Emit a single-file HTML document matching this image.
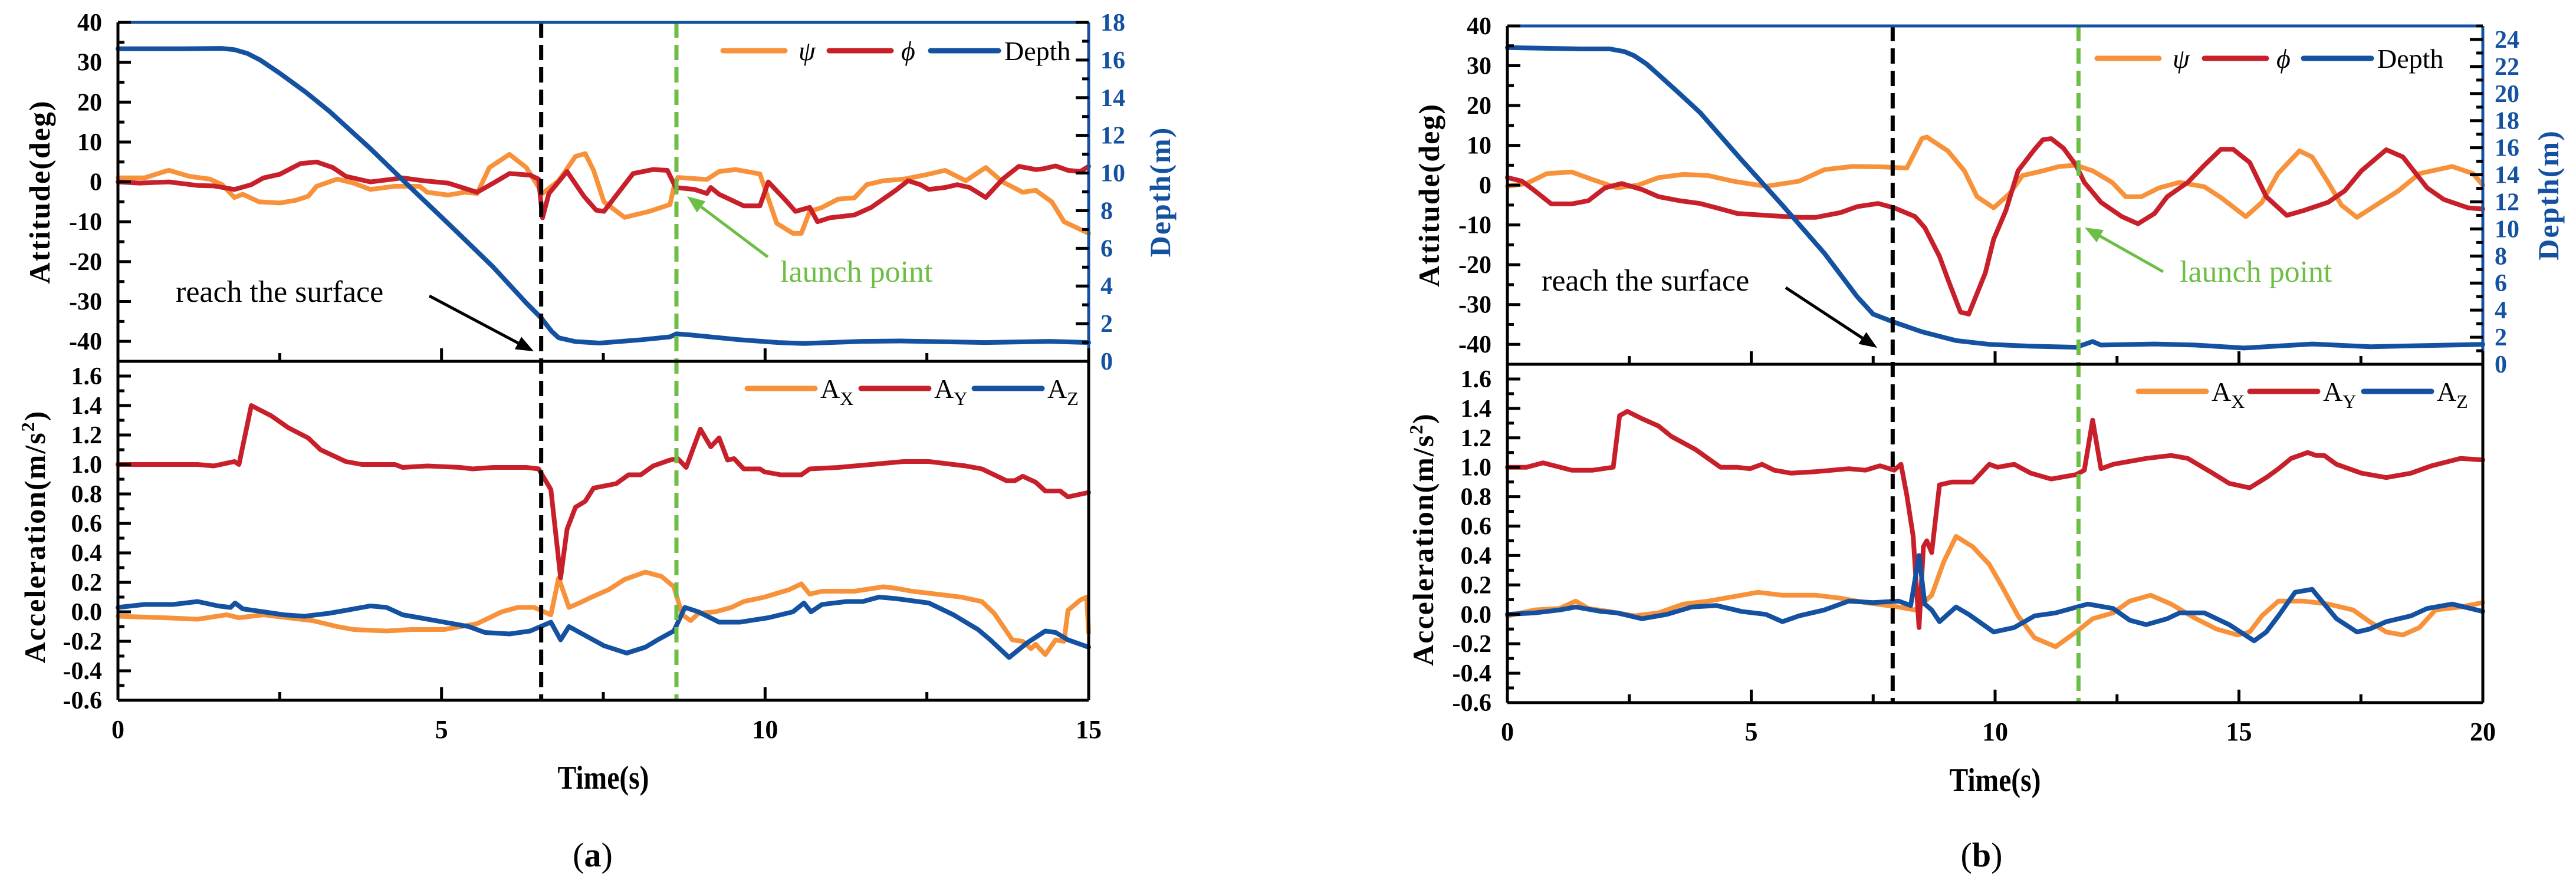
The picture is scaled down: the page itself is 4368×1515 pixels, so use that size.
<!DOCTYPE html>
<html><head><meta charset="utf-8"><style>
html,body{margin:0;padding:0;background:#fff;}
svg{display:block;}
svg text{font-family:"Liberation Serif","DejaVu Serif",serif !important;}
</style></head><body>
<svg id="fig" width="4368" height="1515" viewBox="0 0 4368 1515" xmlns="http://www.w3.org/2000/svg" font-family="Liberation Serif, serif"></svg>
<script>
// ---------- Panel (a) data ----------
const aPsiT=[0,0.41,0.72,0.79,1.10,1.42,1.61,1.80,1.93,2.18,2.50,2.75,2.94,3.07,3.39,3.64,3.90,4.28,4.66,4.78,5.10,5.36,5.55,5.74,6.05,6.31,6.56,6.81,7.07,7.22,7.35,7.51,7.83,8.21,8.53,8.59,8.65,9.10,9.29,9.54,9.92,10.18,10.43,10.56,10.69,10.88,11.13,11.38,11.57,11.83,12.14,12.46,12.78,13.10,13.41,13.67,13.98,14.18,14.43,14.62,15];
const aPsiV=[1,1,2.6,2.9,1.4,0.7,-0.7,-3.9,-3.1,-5,-5.3,-4.6,-3.6,-1.1,0.7,-0.3,-1.9,-1.1,-1.1,-2.6,-3.3,-2.6,-2.9,3.6,6.9,3.6,-2.9,0.3,6.4,7.1,2.9,-5,-8.9,-7.4,-5.7,-1.4,1.1,0.6,2.6,3.1,2,-10.4,-12.9,-12.9,-7.4,-6.4,-4.3,-4,-0.7,0.3,0.7,1.7,2.9,0.3,3.6,0,-2.6,-2.1,-5,-10,-12.9];
const aPhiT=[0,0.34,0.79,1.23,1.48,1.80,2.06,2.25,2.50,2.82,3.07,3.32,3.52,3.90,4.40,4.72,5.10,5.55,5.80,6.05,6.37,6.50,6.56,6.66,6.94,7.20,7.39,7.51,7.96,8.27,8.49,8.62,8.91,9.10,9.16,9.29,9.67,9.92,10.05,10.30,10.47,10.69,10.81,11.00,11.38,11.64,12.02,12.21,12.40,12.53,12.78,12.97,13.16,13.41,13.67,13.92,14.18,14.30,14.49,14.68,14.87,15];
const aPhiV=[0,-0.3,0,-0.9,-1,-1.9,-0.7,1,1.9,4.6,5,3.6,1.4,0,1,0.3,-0.3,-2.6,-0.3,2.1,1.7,0.7,-9,-2.9,2.6,-3.6,-7.1,-7.4,2.1,3.1,2.9,-1.4,-1.9,-2.9,-1.4,-3.1,-6,-6,0,-4.3,-7.4,-6.4,-10,-9,-8.3,-6.4,-2.1,0.3,-0.7,-1.9,-1.4,-0.7,-1.4,-3.9,0.7,3.9,3.1,3.3,4,2.9,2.6,3.9];
const aDepT=[0,1.0,1.6,1.8,2.0,2.2,2.5,2.9,3.26,3.9,4.53,5.17,5.8,6.31,6.54,6.7,6.81,7.07,7.45,8.1,8.53,8.63,8.85,9.6,10.2,10.6,11.5,12.1,13.4,14.4,15];
const aDepV=[16.6,16.6,16.62,16.55,16.35,16.0,15.3,14.3,13.3,11.3,9.2,7.1,5.0,3.1,2.3,1.6,1.25,1.05,0.97,1.15,1.3,1.46,1.4,1.15,1.0,0.95,1.06,1.08,1.0,1.06,1.0];
const aAyT=[0,0.72,1.23,1.48,1.80,1.87,2.06,2.37,2.63,2.94,3.13,3.52,3.77,4.28,4.40,4.78,5.29,5.48,5.80,6.31,6.50,6.69,6.84,6.94,7.07,7.22,7.35,7.70,7.89,8.08,8.27,8.53,8.65,8.78,9.00,9.16,9.29,9.42,9.52,9.67,9.92,9.99,10.24,10.56,10.69,11.13,11.64,12.14,12.53,13.10,13.35,13.54,13.73,13.86,13.98,14.18,14.33,14.56,14.68,15];
const aAyV=[1,1,1,0.99,1.02,1,1.4,1.33,1.25,1.18,1.1,1.02,1,1,0.98,0.99,0.98,0.97,0.98,0.98,0.97,0.83,0.23,0.56,0.71,0.75,0.84,0.87,0.93,0.93,0.99,1.03,1.04,0.98,1.24,1.12,1.18,1.03,1.04,0.97,0.97,0.95,0.93,0.93,0.97,0.98,1.0,1.02,1.02,0.99,0.97,0.93,0.89,0.89,0.92,0.88,0.82,0.82,0.78,0.81];
const aAxT=[0,0.72,1.23,1.68,1.87,2.25,2.63,3.01,3.39,3.64,4.15,4.53,5.04,5.55,5.93,6.18,6.43,6.69,6.81,6.97,7.13,7.32,7.58,7.83,8.15,8.40,8.59,8.72,8.85,8.97,9.23,9.48,9.67,9.99,10.37,10.56,10.69,10.88,11.38,11.83,12.02,12.27,12.65,13.03,13.35,13.54,13.82,13.98,14.11,14.18,14.33,14.49,14.62,14.68,14.87,14.97,15];
const aAxV=[-0.03,-0.04,-0.05,-0.02,-0.04,-0.02,-0.04,-0.06,-0.1,-0.12,-0.13,-0.12,-0.12,-0.08,0,0.03,0.03,-0.02,0.23,0.03,0.06,0.1,0.15,0.22,0.27,0.24,0.17,-0.02,-0.06,-0.01,0,0.03,0.07,0.1,0.15,0.19,0.12,0.14,0.14,0.17,0.16,0.14,0.12,0.1,0.07,-0.01,-0.19,-0.2,-0.25,-0.22,-0.29,-0.19,-0.2,0.01,0.08,0.1,-0.14];
const aAzT=[0,0.41,0.85,1.23,1.55,1.74,1.81,1.93,2.25,2.56,2.88,3.26,3.52,3.90,4.15,4.40,4.66,5.04,5.42,5.67,6.05,6.37,6.69,6.84,6.97,7.26,7.51,7.86,8.15,8.34,8.59,8.76,8.97,9.29,9.61,10.05,10.43,10.60,10.71,10.88,11.26,11.51,11.76,12.02,12.53,12.91,13.29,13.48,13.77,14.05,14.33,14.49,14.68,15];
const aAzV=[0.03,0.05,0.05,0.07,0.04,0.03,0.06,0.02,0,-0.02,-0.03,-0.01,0.01,0.04,0.03,-0.02,-0.04,-0.07,-0.1,-0.14,-0.15,-0.13,-0.07,-0.19,-0.1,-0.17,-0.23,-0.28,-0.24,-0.19,-0.13,0.03,0,-0.07,-0.07,-0.04,0,0.06,0,0.05,0.07,0.07,0.1,0.09,0.06,-0.02,-0.12,-0.19,-0.31,-0.21,-0.13,-0.14,-0.19,-0.24];

// ---------- Panel (b) data ----------
const bPsiT=[0,0.39,0.81,1.32,1.75,2.25,2.68,3.10,3.61,4.12,4.63,5.30,5.98,6.50,7.08,7.68,8.19,8.50,8.60,9.03,9.37,9.63,9.97,10.30,10.56,10.98,11.32,11.66,12.00,12.40,12.68,13.00,13.36,13.78,14.29,14.63,15.14,15.47,15.80,16.24,16.50,16.83,17.10,17.42,17.85,18.27,18.70,19.37,19.80,20];
const bPsiV=[-0.3,0.4,2.9,3.3,1.4,-0.7,0,1.9,2.7,2.4,1,-0.3,1,3.9,4.7,4.6,4.3,11.7,12.1,8.6,3.6,-2.9,-5.7,-2.1,2.4,3.6,4.7,5,3.6,0.7,-2.9,-2.9,-0.7,0.7,-0.4,-3.1,-7.9,-4.3,2.9,8.6,7.1,0.7,-5,-8.1,-4.7,-1.4,2.9,4.7,2.9,0];
const bPhiT=[0,0.30,0.56,0.90,1.32,1.66,2.00,2.34,2.76,3.10,3.53,3.95,4.29,4.71,5.30,5.98,6.32,6.83,7.17,7.60,7.93,8.36,8.56,8.86,9.03,9.29,9.46,9.80,9.97,10.22,10.47,10.81,10.98,11.15,11.40,11.66,11.83,12.17,12.60,12.93,13.27,13.53,13.95,14.29,14.63,14.88,15.22,15.56,15.98,16.32,16.83,17.17,17.51,18.02,18.36,18.86,19.20,19.70,20];
const bPhiV=[1.9,1,-1.4,-4.7,-4.7,-3.9,-0.7,0.4,-1.1,-2.9,-3.9,-4.6,-5.7,-7.1,-7.6,-8.1,-8.1,-6.9,-5.4,-4.6,-5.7,-7.9,-10.7,-17.9,-23.6,-31.9,-32.4,-22,-13.6,-6.4,3.6,9,11.4,11.7,9.3,5,0.7,-4.3,-7.9,-9.7,-7.1,-2.9,0.7,5,9,9,5.7,-2.9,-7.6,-6.4,-4.3,-1.4,3.6,8.9,7.1,-0.7,-3.6,-5.7,-6];
const bDepT=[0,1.5,2.1,2.4,2.6,2.85,3.1,3.5,3.95,4.8,5.64,6.5,7.17,7.5,7.9,8.5,9.2,9.88,10.7,11.66,12.0,12.17,13.27,14.1,15.1,16.5,17.7,20];
const bDepV=[23.4,23.3,23.3,23.1,22.8,22.2,21.4,20.1,18.6,15.1,11.75,8.2,5.0,3.7,3.15,2.4,1.75,1.47,1.34,1.26,1.68,1.42,1.5,1.42,1.2,1.5,1.3,1.47];
const bAyT=[0,0.39,0.73,1.32,1.75,2.17,2.30,2.46,2.76,3.10,3.36,3.86,4.20,4.37,4.71,4.97,5.22,5.47,5.81,6.32,7.00,7.34,7.64,7.93,8.07,8.19,8.32,8.44,8.53,8.60,8.70,8.86,9.12,9.54,9.88,10.05,10.39,10.73,11.15,11.66,11.83,12.00,12.17,12.42,13.10,13.61,13.95,14.46,14.80,15.22,15.56,15.81,16.07,16.41,16.58,16.75,17.00,17.51,18.02,18.53,18.95,19.54,20];
const bAyV=[1.0,1.0,1.03,0.98,0.98,1.0,1.35,1.38,1.33,1.28,1.21,1.12,1.04,1.0,1.0,0.99,1.02,0.98,0.96,0.97,0.99,0.98,1.01,0.98,1.02,0.81,0.53,-0.09,0.46,0.5,0.42,0.88,0.9,0.9,1.02,1.0,1.02,0.96,0.92,0.95,0.98,1.32,0.99,1.02,1.06,1.08,1.06,0.96,0.89,0.86,0.93,0.99,1.06,1.1,1.08,1.08,1.02,0.96,0.93,0.96,1.01,1.06,1.05];
const bAxT=[0,0.56,1.07,1.40,1.66,2.08,2.60,3.10,3.61,4.12,4.63,5.14,5.64,6.32,6.83,7.34,8.02,8.36,8.70,8.95,9.20,9.54,9.88,10.14,10.47,10.81,11.24,11.66,12.00,12.42,12.76,13.19,13.61,14.12,14.54,14.97,15.22,15.47,15.81,16.32,16.83,17.34,17.68,18.02,18.36,18.70,19.03,19.54,20];
const bAxV=[-0.01,0.03,0.04,0.09,0.04,0.02,-0.01,0.01,0.07,0.09,0.12,0.15,0.13,0.13,0.11,0.08,0.05,0.03,0.13,0.36,0.53,0.46,0.34,0.19,-0.01,-0.16,-0.22,-0.12,-0.03,0.01,0.09,0.13,0.07,-0.03,-0.1,-0.14,-0.12,-0.01,0.09,0.09,0.07,0.03,-0.05,-0.12,-0.14,-0.09,0.03,0.05,0.08];
const bAzT=[0,0.56,1.07,1.40,1.92,2.25,2.76,3.27,3.78,4.29,4.80,5.30,5.64,5.98,6.50,7.00,7.50,8.02,8.27,8.44,8.56,8.70,8.86,9.20,9.46,9.97,10.39,10.81,11.24,11.90,12.42,12.76,13.10,13.53,13.78,14.29,14.80,15.31,15.56,15.81,16.15,16.50,16.75,17.00,17.42,17.68,18.02,18.53,18.86,19.37,20];
const bAzV=[0,0.01,0.03,0.05,0.02,0.01,-0.03,0,0.05,0.06,0.02,0,-0.05,-0.01,0.03,0.09,0.08,0.09,0.06,0.4,0.07,0.03,-0.05,0.05,0,-0.12,-0.09,-0.01,0.01,0.07,0.04,-0.04,-0.07,-0.03,0.01,0.01,-0.07,-0.18,-0.12,-0.01,0.15,0.17,0.07,-0.03,-0.12,-0.1,-0.05,-0.01,0.04,0.07,0.02];

// ticks
const attTicks=[-40,-30,-20,-10,0,10,20,30,40];
const accTicks=[-0.6,-0.4,-0.2,0.0,0.2,0.4,0.6,0.8,1.0,1.2,1.4,1.6];
const aDepthTicks=[0,2,4,6,8,10,12,14,16,18];
const bDepthTicks=[0,2,4,6,8,10,12,14,16,18,20,22,24];
const aTimeTicks=[0,5,10,15];
const bTimeTicks=[0,5,10,15,20];

const NS="http://www.w3.org/2000/svg";
const svg=document.getElementById('fig');
const OR="#F7923A",RD="#C8202A",BL="#1451A0",GR="#6DBE45";
const FF="Liberation Serif, DejaVu Serif, serif";
function mk(tag,attrs,parent){const e=document.createElementNS(NS,tag);for(const k in attrs)e.setAttribute(k,attrs[k]);if(tag==='text')e.setAttribute('font-family',FF);(parent||svg).appendChild(e);return e;}
function txt(s,attrs,parent){const e=mk('text',attrs,parent);e.textContent=s;return e;}

function panel(c){
  const g=mk('g',{});
  
  
  const X=t=>c.x0+(t-c.tmin)/(c.tmax-c.tmin)*(c.x1-c.x0);
  const YA=v=>c.top+(40-v)/85*(c.mid-c.top);
  const YD=v=>c.mid-v/c.dmax*(c.mid-c.top);
  const YC=v=>c.mid+(1.7-v)/2.3*(c.bot-c.mid);
  function line(T,V,xf,yf,col,nm){
    let d='';T.forEach((t,i)=>{d+=(i?'L':'M')+xf(t).toFixed(1)+' '+yf(V[i]).toFixed(1);});
    const p=mk('path',{d:d,fill:'none',stroke:col,'stroke-width':8,'stroke-linejoin':'round','stroke-linecap':'round'},g);
    
    
  }
  line(c.psiT,c.psiV,X,YA,OR,'psi-line');
  line(c.phiT,c.phiV,X,YA,RD,'phi-line');
  line(c.depT,c.depV,X,YD,BL,'depth-line');
  line(c.axT,c.axV,X,YC,OR,'ax-line');
  line(c.ayT,c.ayV,X,YC,RD,'ay-line');
  line(c.azT,c.azV,X,YC,BL,'az-line');
  const vb=mk('line',{x1:X(c.tSurf),x2:X(c.tSurf),y1:c.top,y2:c.bot,stroke:'#000','stroke-width':7,'stroke-dasharray':'26 12'},g);
  
  
  const vg=mk('line',{x1:X(c.tLaunch),x2:X(c.tLaunch),y1:c.top,y2:c.bot,stroke:GR,'stroke-width':7,'stroke-dasharray':'26 12'},g);
  
  
  mk('line',{x1:c.x0,x2:c.x1,y1:c.top,y2:c.top,stroke:BL,'stroke-width':5},g);
  mk('line',{x1:c.x1,x2:c.x1,y1:c.top,y2:c.mid,stroke:BL,'stroke-width':5},g);
  mk('line',{x1:c.x1,x2:c.x1,y1:c.mid,y2:c.bot,stroke:'#000','stroke-width':5},g);
  mk('line',{x1:c.x0,x2:c.x0,y1:c.top,y2:c.bot,stroke:'#000','stroke-width':5},g);
  mk('line',{x1:c.x0,x2:c.x1,y1:c.mid,y2:c.mid,stroke:'#000','stroke-width':5},g);
  mk('line',{x1:c.x0,x2:c.x1,y1:c.bot,y2:c.bot,stroke:'#000','stroke-width':5},g);
  attTicks.forEach(v=>{
    mk('line',{x1:c.x0,x2:c.x0+22,y1:YA(v),y2:YA(v),stroke:'#000','stroke-width':5},g);
    mk('line',{x1:c.x0,x2:c.x0+11,y1:YA(v-5),y2:YA(v-5),stroke:'#000','stroke-width':5},g);
    const t=txt(String(v),{x:c.x0-27,y:YA(v)+14,'text-anchor':'end','font-size':42,'font-weight':'bold'},g);
    
    
  });
  accTicks.forEach(v=>{
    mk('line',{x1:c.x0,x2:c.x0+22,y1:YC(v),y2:YC(v),stroke:'#000','stroke-width':5},g);
    mk('line',{x1:c.x0,x2:c.x0+11,y1:YC(v+0.1),y2:YC(v+0.1),stroke:'#000','stroke-width':5},g);
    const t=txt(v.toFixed(1),{x:c.x0-27,y:YC(v)+14,'text-anchor':'end','font-size':42,'font-weight':'bold'},g);
    
    
  });
  c.depthTicks.forEach(v=>{
    mk('line',{x1:c.x1,x2:c.x1-22,y1:YD(v),y2:YD(v),stroke:'#000','stroke-width':5},g);
    if(v+1<=c.dmax) mk('line',{x1:c.x1,x2:c.x1-11,y1:YD(v+1),y2:YD(v+1),stroke:'#000','stroke-width':5},g);
    const t=txt(String(v),{x:c.x1+20,y:YD(v)+14,'font-size':42,'font-weight':'bold',fill:BL},g);
    
    
  });
  c.timeTicks.forEach(v=>{
    [c.mid,c.bot].forEach(yy=>{
      mk('line',{x1:X(v),x2:X(v),y1:yy,y2:yy-22,stroke:'#000','stroke-width':5},g);
      if(v+2.5<=c.tmax) mk('line',{x1:X(v+2.5),x2:X(v+2.5),y1:yy,y2:yy-14,stroke:'#000','stroke-width':5},g);
    });
    const t=txt(String(v),{x:X(v),y:c.bot+64,'text-anchor':'middle','font-size':44,'font-weight':'bold'},g);
    
    
  });
  const at=txt('Attitude(deg)',{x:0,y:0,'text-anchor':'middle','font-size':50,'font-weight':'bold','letter-spacing':2,transform:`translate(${c.attX},${(c.top+c.mid)/2}) rotate(-90)`},g);
  
  
  const ac=mk('text',{x:0,y:0,'text-anchor':'middle','font-size':50,'font-weight':'bold','letter-spacing':2,transform:`translate(${c.accX},${(c.mid+c.bot)/2+10}) rotate(-90)`},g);
  ac.innerHTML='Acceleration(m/s<tspan font-size="32" dy="-18">2</tspan><tspan dy="18">)</tspan>';
  
  
  const dt=txt('Depth(m)',{x:0,y:0,'text-anchor':'middle','font-size':50,'font-weight':'bold','letter-spacing':2,fill:BL,transform:`translate(${c.depX},${(c.top+c.mid)/2}) rotate(-90)`},g);
  
  
  const tt=txt('Time(s)',{x:(c.x0+c.x1)/2,y:c.bot+150,'text-anchor':'middle','font-size':56,'font-weight':'bold',transform:`translate(${(c.x0+c.x1)/2},0) scale(0.85,1) translate(${-(c.x0+c.x1)/2},0)`},g);
  
  
  const lab=mk('text',{x:c.labX,y:1470,'text-anchor':'middle','font-size':58},g);
  lab.innerHTML='(<tspan font-weight="bold">'+c.letter+'</tspan>)';
  
  
  function leg(x1,x2,y,col,label,tx,nm,italic,sub){
    const lg=mk('g',{},g);
    
    
    mk('line',{x1:x1,x2:x2,y1:y,y2:y,stroke:col,'stroke-width':9,'stroke-linecap':'round'},lg);
    const t=mk('text',{x:tx,y:y+16,'font-size':46,'font-style':italic?'italic':'normal'},lg);
    t.innerHTML=sub?('A<tspan font-size="32" dy="12">'+sub+'</tspan>'):label;
  }
  const L=c.leg;
  leg(L[0],L[0]+105,L[6],OR,'ψ',L[0]+128,'legend-psi',true);
  leg(L[1],L[1]+105,L[6],RD,'ϕ',L[1]+122,'legend-phi',true);
  leg(L[2],L[2]+115,L[6],BL,'Depth',L[2]+125,'legend-depth',false);
  leg(L[3],L[3]+115,L[7],OR,'',L[3]+124,'legend-ax',false,'X');
  leg(L[4],L[4]+115,L[7],RD,'',L[4]+124,'legend-ay',false,'Y');
  leg(L[5],L[5]+115,L[7],BL,'',L[5]+124,'legend-az',false,'Z');
  const s=c.surf;
  const rt=txt('reach the surface',{x:s[0],y:s[1],'font-size':52},g);
  
  
  arrow(s[2],s[3],s[4],s[5],'#000',g,'reach-surface-arrow');
  const l=c.launch;
  const lt=txt('launch point',{x:l[0],y:l[1],'font-size':52,fill:GR},g);
  
  
  arrow(l[2],l[3],l[4],l[5],GR,g,'launch-point-arrow');
}
function arrow(x1,y1,x2,y2,col,g,nm){
  const a=mk('g',{},g);
  
  
  const ang=Math.atan2(y2-y1,x2-x1),L=30,W=12;
  const bx=x2-L*Math.cos(ang),by=y2-L*Math.sin(ang);
  mk('line',{x1:x1,y1:y1,x2:bx,y2:by,stroke:col,'stroke-width':5},a);
  const px=-Math.sin(ang)*W,py=Math.cos(ang)*W;
  mk('polygon',{points:`${x2},${y2} ${bx+px},${by+py} ${bx-px},${by-py}`,fill:col},a);
}
panel({name:'panel-a',letter:'a',x0:200,x1:1846,top:38,mid:613,bot:1188,tmin:0,tmax:15,dmax:18,
  psiT:aPsiT,psiV:aPsiV,phiT:aPhiT,phiV:aPhiV,depT:aDepT,depV:aDepV,axT:aAxT,axV:aAxV,ayT:aAyT,ayV:aAyV,azT:aAzT,azV:aAzV,
  tSurf:6.54,tLaunch:8.63,depthTicks:aDepthTicks,timeTicks:aTimeTicks,attX:84,accX:76,depX:1984,labX:1005,
  leg:[1226,1406,1578,1267,1460,1652,86,659],
  surf:[298,512,728,502,905,596],launch:[1323,478,1302,436,1165,333]});
panel({name:'panel-b',letter:'b',x0:2556,x1:4210,top:44,mid:618,bot:1192,tmin:0,tmax:20,dmax:25,
  psiT:bPsiT,psiV:bPsiV,phiT:bPhiT,phiV:bPhiV,depT:bDepT,depV:bDepV,axT:bAxT,axV:bAxV,ayT:bAyT,ayV:bAyV,azT:bAzT,azV:bAzV,
  tSurf:7.9,tLaunch:11.71,depthTicks:bDepthTicks,timeTicks:bTimeTicks,attX:2440,accX:2430,depX:4338,labX:3360,
  leg:[3556,3738,3906,3626,3815,4008,99,664],
  surf:[2614,493,3028,488,3183,590],launch:[3696,478,3668,461,3535,386]});
</script>
</body></html>
